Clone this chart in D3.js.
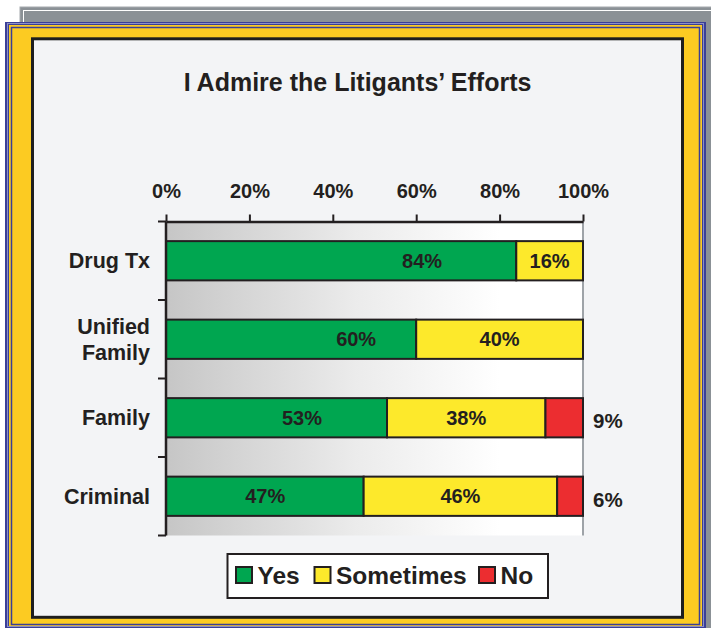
<!DOCTYPE html>
<html>
<head>
<meta charset="utf-8">
<script src="https://cdn.jsdelivr.net/npm/d3@7"></script>
<style>
  html, body { margin: 0; padding: 0; background: #ffffff; }
  svg { display: block; }
  text { font-family: "Liberation Sans", Arial, Helvetica, sans-serif; font-weight: bold; fill: #231f20; }
</style>
</head>
<body>
<script>
// ---- data ----
const title = "I Admire the Litigants’ Efforts";
const categories = ["Drug Tx", "Unified Family", "Family", "Criminal"];
const categoryLines = [["Drug Tx"], ["Unified", "Family"], ["Family"], ["Criminal"]];
const seriesNames = ["Yes", "Sometimes", "No"];
const yesValues = [84, 60, 53, 47.4];
const sometimesValues = [16, 40, 38, 46.4];
const noValues = [0, 0, 9, 6.2];
const yesLabels = ["84%", "60%", "53%", "47%"];
const sometimesLabels = ["16%", "40%", "38%", "46%"];
const noLabels = ["", "", "9%", "6%"];
const tickValues = [0, 20, 40, 60, 80, 100];
const tickLabels = ["0%", "20%", "40%", "60%", "80%", "100%"];
// where the "Yes" labels sit along the axis (axis units)
const yesLabelAt = [61.4, 45.6, 32.6, 23.8];

// ---- layout ----
const W = 711, H = 628;
const colors = { Yes: "#00a650", Sometimes: "#fde92b", No: "#ec2d30" };
const ink = "#231f20";

const svg = d3.select("body").append("svg").attr("width", W).attr("height", H);

// frames
svg.append("rect").attr("x", 20).attr("y", 7).attr("width", 720).attr("height", 640)
  .attr("fill", "#8b9196").attr("stroke", "#a5a9ad").attr("stroke-width", 1);
svg.append("rect").attr("x", 23.5).attr("y", 10.5).attr("width", 720).attr("height", 640)
  .attr("fill", "none").attr("stroke", "#ffffff").attr("stroke-width", 1);

svg.append("rect").attr("x", 5).attr("y", 22).attr("width", 701).attr("height", 606)
  .attr("fill", "#3b3f97");
svg.append("rect").attr("x", 7.5).attr("y", 23.5).attr("width", 696).attr("height", 603)
  .attr("fill", "none").attr("stroke", "#8d90c4").attr("stroke-width", 1);
svg.append("rect").attr("x", 9).attr("y", 25).attr("width", 693).attr("height", 601)
  .attr("fill", "#fccb22");
svg.append("rect").attr("x", 11.5).attr("y", 27.5).attr("width", 688).attr("height", 597)
  .attr("fill", "none").attr("stroke", "#3b3f97").attr("stroke-width", 1.5);

svg.append("rect").attr("x", 32.5).attr("y", 38.8).attr("width", 650).attr("height", 578.5)
  .attr("fill", "#f3f4f6").attr("stroke", "#1e1e1e").attr("stroke-width", 3);

// title
svg.append("text").attr("x", 357.5).attr("y", 91).attr("text-anchor", "middle")
  .style("font-size", "25px").text(title);

// scales
const x = d3.scaleLinear().domain([0, 100]).range([166, 583]);
const y = d3.scaleBand().domain(categories).range([221.5, 535.5]).paddingInner(0.5).paddingOuter(0.25);

// plot background gradient
const defs = svg.append("defs");
const grad = defs.append("linearGradient").attr("id", "bg").attr("x1", "0").attr("x2", "1").attr("y1", "0").attr("y2", "0");
grad.append("stop").attr("offset", "0").attr("stop-color", "#c6c6c6");
grad.append("stop").attr("offset", "0.45").attr("stop-color", "#ebebeb");
grad.append("stop").attr("offset", "0.8").attr("stop-color", "#ffffff");
grad.append("stop").attr("offset", "1").attr("stop-color", "#ffffff");

svg.append("rect").attr("x", x(0)).attr("y", 221.5).attr("width", x(100) - x(0)).attr("height", 314)
  .attr("fill", "url(#bg)");
svg.append("line").attr("x1", x(100)).attr("x2", x(100)).attr("y1", 221.5).attr("y2", 535.5)
  .attr("stroke", "#9ea3a8").attr("stroke-width", 2);

// stacked data
const rows = categories.map((c, i) => ({ cat: c, Yes: yesValues[i], Sometimes: sometimesValues[i], No: noValues[i] }));
const stacked = d3.stack().keys(seriesNames)(rows);

const g = svg.append("g");
stacked.forEach(layer => {
  g.selectAll(null).data(layer.filter(d => d[1] - d[0] > 0)).enter().append("rect")
    .attr("x", d => x(d[0]))
    .attr("y", d => y(d.data.cat))
    .attr("width", d => x(d[1]) - x(d[0]))
    .attr("height", y.bandwidth())
    .attr("fill", colors[layer.key])
    .attr("stroke", "#231f20").attr("stroke-width", 2);
});

// labels
categories.forEach((c, i) => {
  const cy = y(c) + y.bandwidth() / 2;
  svg.append("text").attr("x", x(yesLabelAt[i])).attr("y", cy + 7).attr("text-anchor", "middle")
    .style("font-size", "20px").text(yesLabels[i]);
  const s = stacked[1][i];
  svg.append("text").attr("x", (x(s[0]) + x(s[1])) / 2).attr("y", cy + 7).attr("text-anchor", "middle")
    .style("font-size", "20px").text(sometimesLabels[i]);
  if (noLabels[i]) {
    svg.append("text").attr("x", x(100) + 10).attr("y", cy + 10.5).attr("text-anchor", "start")
      .style("font-size", "20.5px").text(noLabels[i]);
  }
});

// top axis
const xAxis = d3.axisTop(x).tickValues(tickValues).tickFormat((d, i) => tickLabels[i]).tickSize(7).tickSizeOuter(0);
const ax = svg.append("g").attr("transform", "translate(0,221.5)").call(xAxis);
ax.select(".domain").attr("stroke", ink).attr("stroke-width", 2.5);
ax.selectAll(".tick line").attr("stroke", ink).attr("stroke-width", 2);
ax.selectAll(".tick text").attr("y", -24).attr("fill", ink)
  .style("font-size", "20px").style("font-family", "'Liberation Sans', Arial, sans-serif").style("font-weight", "bold");

// left axis: line with ticks at category boundaries
const boundaries = d3.range(categories.length + 1).map(i => 221.5 + i * y.step());
svg.append("line").attr("x1", x(0)).attr("x2", x(0)).attr("y1", 221.5).attr("y2", 535.5)
  .attr("stroke", ink).attr("stroke-width", 2.5);
svg.selectAll(null).data(boundaries).enter().append("line")
  .attr("x1", x(0) - 8).attr("x2", x(0)).attr("y1", d => d).attr("y2", d => d)
  .attr("stroke", ink).attr("stroke-width", 2);

// category labels
categories.forEach((c, i) => {
  const cy = y(c) + y.bandwidth() / 2;
  const lines = categoryLines[i];
  const lh = 26;
  lines.forEach((ln, j) => {
    svg.append("text").attr("x", 150).attr("y", cy + 7.5 + (j - (lines.length - 1) / 2) * lh)
      .attr("text-anchor", "end").style("font-size", "21.5px").text(ln);
  });
});

// legend
const lg = svg.append("g");
lg.append("rect").attr("x", 227.5).attr("y", 554).attr("width", 320.5).attr("height", 44)
  .attr("fill", "#ffffff").attr("stroke", ink).attr("stroke-width", 2);
const legendX = [236, 314.5, 479];
seriesNames.forEach((n, i) => {
  lg.append("rect").attr("x", legendX[i]).attr("y", 567).attr("width", 16).attr("height", 16)
    .attr("fill", colors[n]).attr("stroke", ink).attr("stroke-width", 2);
  lg.append("text").attr("x", legendX[i] + 21.5).attr("y", 583.5).style("font-size", "24.5px").text(n);
});
</script>
</body>
</html>
